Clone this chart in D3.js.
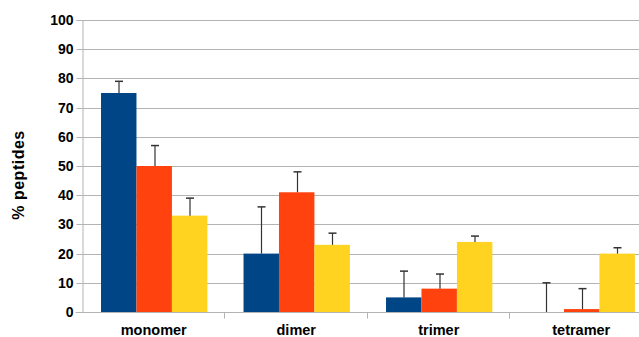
<!DOCTYPE html>
<html>
<head>
<meta charset="utf-8">
<script src="https://cdn.jsdelivr.net/npm/d3@7"></script>
<style>
  html, body { margin: 0; padding: 0; background: #fff; }
  svg { display: block; }
  text { font-family: "Liberation Sans", Arial, sans-serif; font-weight: bold; fill: #000; }
</style>
</head>
<body>
<svg id="chart" width="639" height="337"></svg>
<script>
// Oligomer state categories and the three series (percent of peptides)
const categories = ["monomer", "dimer", "trimer", "tetramer"];
const seriesNames = ["A", "B", "C"];
const seriesColors = ["#004586", "#ff420e", "#ffd320"];
const valuesA = [75, 20, 5, 0];
const valuesB = [50, 41, 8, 1];
const valuesC = [33, 23, 24, 20];
// upper error per series
const errorsA = [4, 16, 9, 10];
const errorsB = [7, 7, 5, 7];
const errorsC = [6, 4, 2, 2];
const yTicks = [0, 10, 20, 30, 40, 50, 60, 70, 80, 90, 100];

const values = [valuesA, valuesB, valuesC];
const errors = [errorsA, errorsB, errorsC];

const svg = d3.select("#chart");
const margin = { left: 81.5, top: 20, bottom: 25 };
const plotRight = 651.5;
const height = 337;
const y0 = height - margin.bottom;

const x = d3.scaleBand().domain(categories).range([margin.left, plotRight]).paddingInner(0).paddingOuter(0);
const xs = d3.scaleBand().domain(seriesNames).range([0, x.bandwidth()])
  .paddingInner(0).paddingOuter(0.51).align(0.54);
const y = d3.scaleLinear().domain([0, 100]).range([y0, margin.top]);

// horizontal gridlines
svg.append("g").selectAll("line").data(yTicks).join("line")
  .attr("x1", margin.left).attr("x2", plotRight)
  .attr("y1", d => Math.round(y(d)) + 0.5).attr("y2", d => Math.round(y(d)) + 0.5)
  .attr("stroke", "#b3b3b3").attr("stroke-width", 1);

// y axis
const yAxis = svg.append("g").attr("transform", `translate(${Math.round(margin.left) + 0.5},0)`)
  .call(d3.axisLeft(y).tickValues(yTicks).tickSize(6).tickPadding(3));
yAxis.select(".domain").attr("stroke", "#b3b3b3");
yAxis.selectAll(".tick line").attr("stroke", "#b3b3b3");
yAxis.selectAll(".tick").attr("transform", d => `translate(0,${Math.round(y(d)) + 0.5})`);
yAxis.selectAll("text").style("font-size", "14px").style("font-family", '"Liberation Sans", Arial, sans-serif').style("font-weight", "bold").attr("fill", "#000");

// bars with upward error bars
const groups = svg.append("g").selectAll("g").data(categories).join("g")
  .attr("transform", d => `translate(${x(d)},0)`);

groups.each(function(cat, ci) {
  const g = d3.select(this);
  seriesNames.forEach((s, si) => {
    const v = values[si][ci];
    const bx = xs(s);
    if (v > 0) {
      g.append("rect")
        .attr("x", bx).attr("width", xs.bandwidth())
        .attr("y", y(v)).attr("height", y0 - y(v))
        .attr("fill", seriesColors[si]);
    }
    const cx = Math.round(bx + xs.bandwidth() / 2) + 0.5;
    const top = y(v + errors[si][ci]);
    g.append("line").attr("x1", cx).attr("x2", cx).attr("y1", y(v)).attr("y2", top)
      .attr("stroke", "#333").attr("stroke-width", 1.2);
    g.append("line").attr("x1", cx - 4).attr("x2", cx + 4).attr("y1", top).attr("y2", top)
      .attr("stroke", "#333").attr("stroke-width", 1.5);
  });
});

// x axis
const xAxis = svg.append("g").attr("transform", `translate(0,${Math.round(y0) + 0.5})`);
xAxis.append("line").attr("x1", margin.left - 6).attr("x2", plotRight).attr("stroke", "#b3b3b3");
xAxis.selectAll("line.tk").data(categories.slice(1)).join("line").attr("class", "tk")
  .attr("x1", d => Math.round(x(d)) + 0.5).attr("x2", d => Math.round(x(d)) + 0.5)
  .attr("y1", 0).attr("y2", 6).attr("stroke", "#b3b3b3");
xAxis.selectAll("text").data(categories).join("text")
  .attr("x", d => x(d) + x.bandwidth() / 2 + 1).attr("y", 22)
  .attr("text-anchor", "middle").style("font-size", "14.5px").text(d => d);

// y axis title
svg.append("text")
  .attr("transform", `translate(24,175) rotate(-90)`)
  .attr("text-anchor", "middle").style("font-size", "16px").style("letter-spacing", "0.5px")
  .text("% peptides");
</script>
</body>
</html>
